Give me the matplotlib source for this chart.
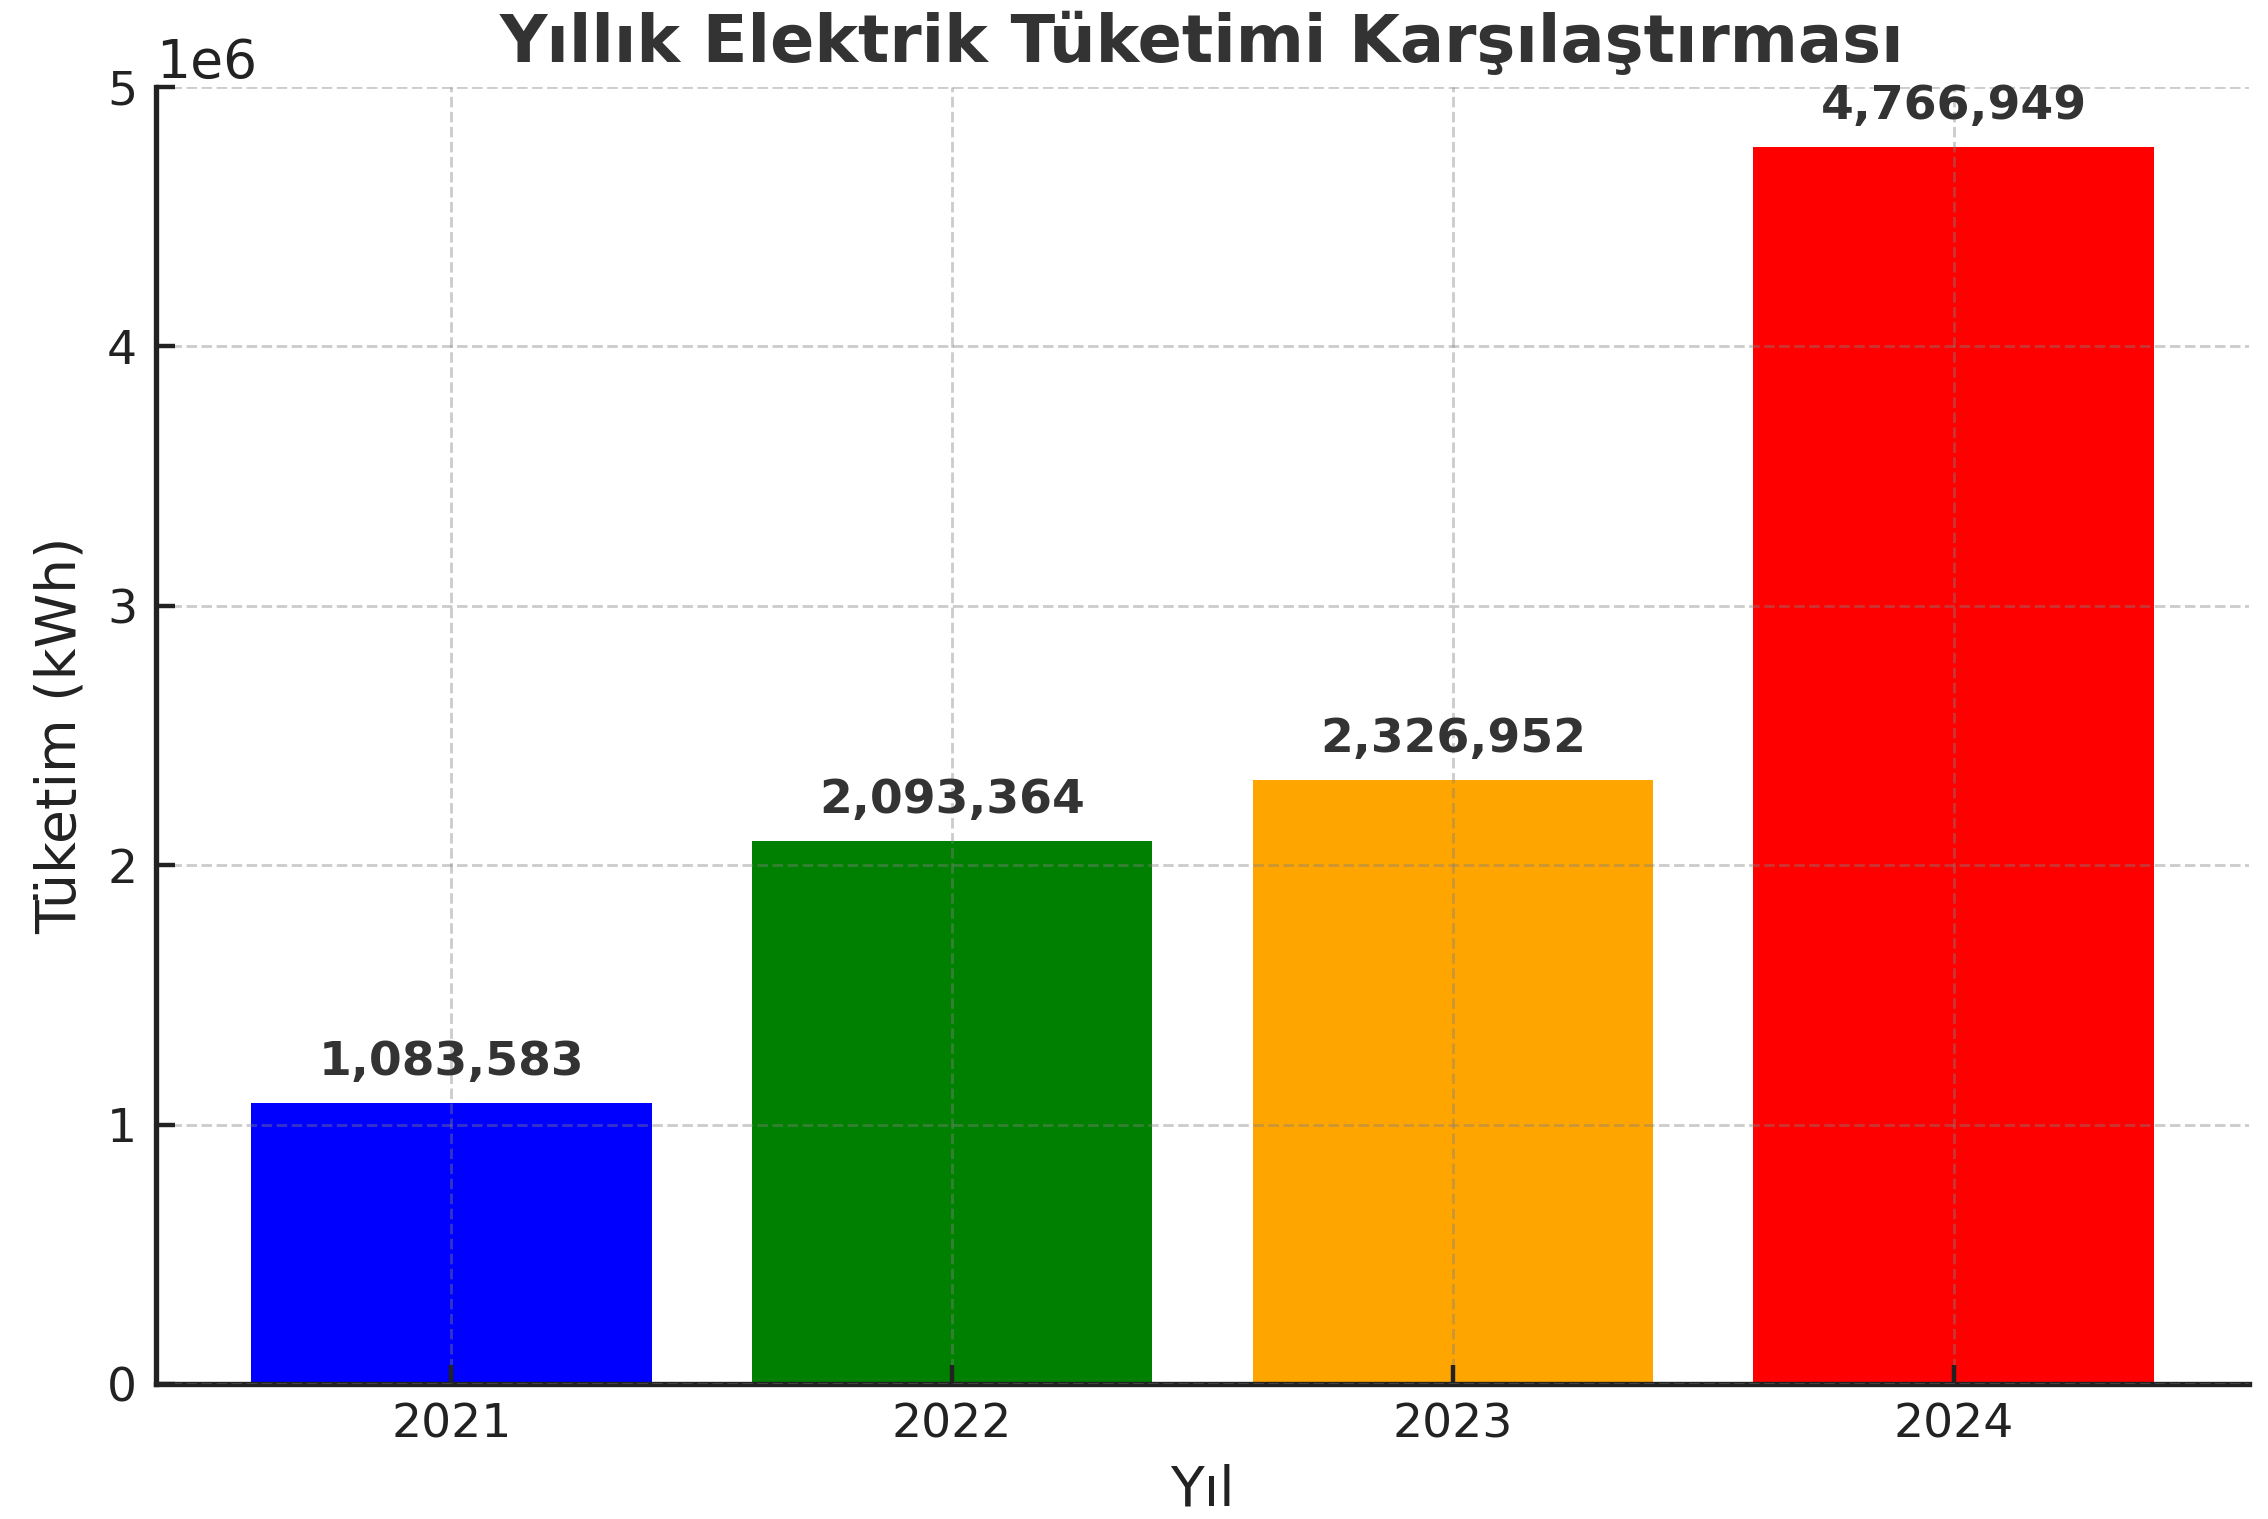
import matplotlib.pyplot as plt

# Yıllık elektrik tüketimi verisi
years = ["2021", "2022", "2023", "2024"]
consumption = [1083583, 2093364, 2326952, 4766949]
bar_colors = ["blue", "green", "orange", "red"]

fig = plt.figure(figsize=(10, 6.698), dpi=226.8)
ax = fig.add_axes([0.0688, 0.0889, 0.9228, 0.8538])

bars = ax.bar(years, consumption, color=bar_colors, width=0.8)

for b, val in zip(bars, consumption):
    ax.text(b.get_x() + b.get_width() / 2, val + 70000, f"{val:,}",
            ha="center", va="bottom", fontsize=15, fontweight="bold",
            color="#333333")

ax.set_ylim(0, 5e6)
ax.set_title("Yıllık Elektrik Tüketimi Karşılaştırması", fontsize=20.8,
             fontweight="bold", color="#333333", pad=8)
ax.set_xlabel("Yıl", fontsize=17.5, color="#222222", labelpad=5)
ax.set_ylabel("Tüketim (kWh)", fontsize=17.5, color="#222222", labelpad=6)
ax.tick_params(axis="both", labelsize=15, direction="in", colors="#222222",
               width=1.4, length=6, pad=6)
ax.yaxis.get_offset_text().set_fontsize(17)

ax.grid(True, linestyle="--", color="gray", alpha=0.4, linewidth=0.9)
ax.set_axisbelow(False)
for s in ["top", "right"]:
    ax.spines[s].set_visible(False)
for s in ["left", "bottom"]:
    ax.spines[s].set_linewidth(1.7)
    ax.spines[s].set_color("#222222")

fig.savefig("out.png", dpi=226.8)
